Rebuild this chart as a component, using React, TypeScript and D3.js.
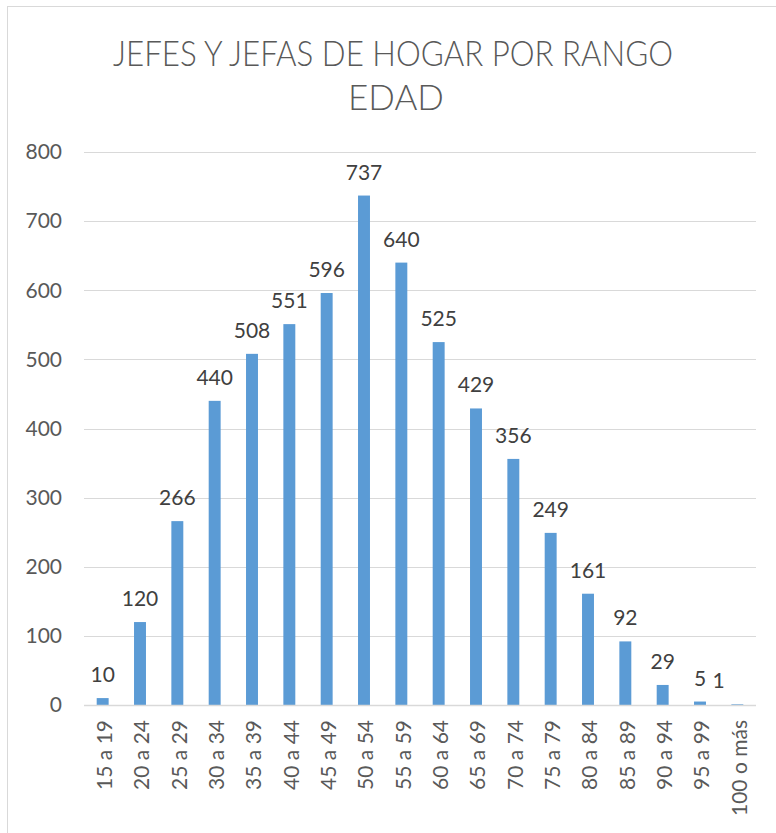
import React, { useEffect, useRef } from 'react';
import * as d3 from 'd3';

const categories = [
  '15 a 19', '20 a 24', '25 a 29', '30 a 34', '35 a 39', '40 a 44',
  '45 a 49', '50 a 54', '55 a 59', '60 a 64', '65 a 69', '70 a 74',
  '75 a 79', '80 a 84', '85 a 89', '90 a 94', '95 a 99', '100 o más',
];
const values = [10, 120, 266, 440, 508, 551, 596, 737, 640, 525, 429, 356, 249, 161, 92, 29, 5, 1];
const yTicks = [0, 100, 200, 300, 400, 500, 600, 700, 800];
const titleLines = ['JEFES Y JEFAS DE HOGAR POR RANGO', 'EDAD'];

const App: React.FC = () => {
  const svgRef = useRef<SVGSVGElement>(null);

  useEffect(() => {
    if (!svgRef.current) return;
    const width = 776;
    const height = 833;
    const svg = d3.select(svgRef.current);
    svg.selectAll('*').remove();

    const font = 'Lato, "Open Sans", sans-serif';
    const margin = { top: 152, left: 84, right: 20, bottom: 128 };
    const innerW = width - margin.left - margin.right;
    const innerH = height - margin.top - margin.bottom;

    // chart frame (right and bottom edges run off the picture)
    svg.append('rect')
      .attr('x', 7.5).attr('y', 6.5)
      .attr('width', 820).attr('height', 900)
      .attr('fill', '#fff')
      .attr('stroke', '#d9d9d9');

    // title
    const title = svg.append('text')
      .attr('text-anchor', 'middle')
      .attr('fill', '#595959')
      .style('font-family', font)
      .style('font-weight', 300)
      .style('font-size', '35px');
    title.append('tspan').attr('x', 393).attr('y', 66)
      .attr('textLength', 560).attr('lengthAdjust', 'spacingAndGlyphs')
      .text(titleLines[0]);
    title.append('tspan').attr('x', 396).attr('y', 110).text(titleLines[1]);

    const g = svg.append('g').attr('transform', `translate(${margin.left},${margin.top})`);

    const x = d3.scaleBand().domain(categories).range([0, innerW]).paddingInner(0.68).paddingOuter(0.34);
    const y = d3.scaleLinear().domain([0, 800]).range([innerH, 0]);

    // gridlines
    g.selectAll('.grid')
      .data(yTicks.filter(t => t > 0))
      .enter()
      .append('line')
      .attr('x1', 0).attr('x2', innerW)
      .attr('y1', d => Math.round(y(d)) + 0.5).attr('y2', d => Math.round(y(d)) + 0.5)
      .attr('stroke', '#d9d9d9').attr('stroke-width', 1);

    // y labels
    g.selectAll('.ylab')
      .data(yTicks)
      .enter()
      .append('text')
      .attr('x', -22)
      .attr('y', d => y(d))
      .attr('dy', '0.35em')
      .attr('text-anchor', 'end')
      .attr('fill', '#595959')
      .style('font-family', font)
      .style('font-size', '21px')
      .text(d => d);

    // bars
    g.selectAll('.bar')
      .data(values)
      .enter()
      .append('rect')
      .attr('x', (d, i) => x(categories[i]) || 0)
      .attr('y', d => y(d))
      .attr('width', x.bandwidth())
      .attr('height', d => innerH - y(d))
      .attr('fill', '#5b9bd5');

    // axis line
    g.append('line')
      .attr('x1', 0).attr('x2', innerW)
      .attr('y1', innerH + 0.5).attr('y2', innerH + 0.5)
      .attr('stroke', '#d9d9d9').attr('stroke-width', 1.5);

    // value labels (last one gets pushed left, as in the original)
    const step = x.step();
    g.selectAll('.vlab')
      .data(values)
      .enter()
      .append('text')
      .attr('x', (d, i) => (x(categories[i]) || 0) + x.bandwidth() / 2 - (i === values.length - 1 ? step / 2 : 0))
      .attr('y', d => y(d) - 16)
      .attr('text-anchor', 'middle')
      .attr('fill', '#404040')
      .style('font-family', font)
      .style('font-size', '21px')
      .text(d => d);

    // x labels, rotated
    g.selectAll('.xlab')
      .data(categories)
      .enter()
      .append('text')
      .attr('transform', d => `translate(${(x(d) || 0) + x.bandwidth() / 2 + 2},${innerH + 15}) rotate(-90)`)
      .attr('dy', '0.35em')
      .attr('text-anchor', 'end')
      .attr('fill', '#595959')
      .style('font-family', font)
      .style('font-size', '21px')
      .text(d => d);
  }, []);

  return (
    <svg
      ref={svgRef}
      width={776}
      height={833}
      style={{ position: 'absolute', left: 0, top: 0, background: '#fff' }}
    />
  );
};

export default App;
